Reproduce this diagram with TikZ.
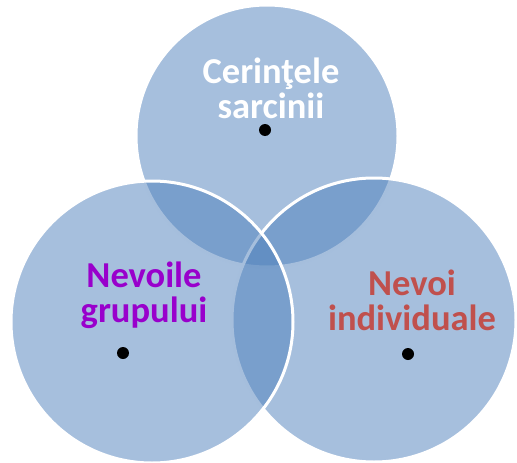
\documentclass[tikz,border=0pt]{standalone}
\usepackage{fontspec}
\setmainfont{Carlito}
\usetikzlibrary{positioning}
\definecolor{ringblue}{RGB}{77,127,187}
\definecolor{grpviolet}{RGB}{153,0,204}
\definecolor{indred}{RGB}{192,80,77}

\begin{document}
\begin{tikzpicture}[x=1pt,y=-1pt,ring/.style={circle,fill=ringblue,fill opacity=0.5,draw=white,line width=3pt,inner sep=0pt},pin/.style={circle,fill=black,inner sep=0pt,minimum size=12pt},lbl/.style={font=\fontsize{36.5}{35}\selectfont\bfseries,align=center,anchor=base}]
		\useasboundingbox (0,0) rectangle (517,463);

		\node[ring,minimum size=262pt]		(task)	at (267,136)	{};
		\node[ring,minimum size=284pt]		(self)	at (374,320)	{};
		\node[ring,minimum size=282pt]		(group)	at (152,322)	{};

		\node[lbl,text=white]				(t1)	at (271,118)	{Cerinţele\\sarcinii};
		\node[lbl,text=grpviolet]			(t2)	at (144,322)	{Nevoile\\grupului};
		\node[lbl,text=indred]				(t3)	at (412,330)	{Nevoi\\individuale};

		\node[pin]							(p1)	at (265,130)	{};
		\node[pin]							(p2)	at (123,353)	{};
		\node[pin]							(p3)	at (408,354)	{};
	\end{tikzpicture}
\end{document}
